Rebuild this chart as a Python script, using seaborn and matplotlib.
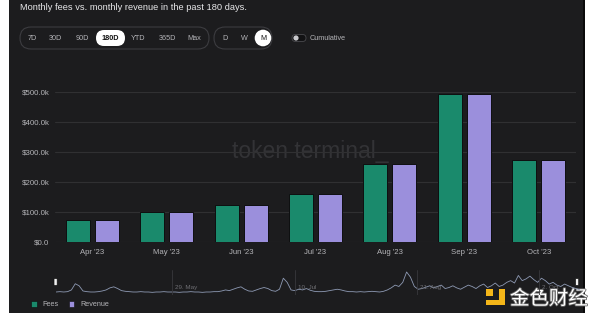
import numpy as np
import pandas as pd
import matplotlib
matplotlib.use("Agg")
import matplotlib.pyplot as plt
import seaborn as sns
from matplotlib.patches import FancyBboxPatch, Rectangle, Circle
import matplotlib.patheffects as pe

# ---------------- data ----------------
months = ["Apr '23", "May '23", "Jun '23", "Jul '23", "Aug '23", "Sep '23", "Oct '23"]
fees = [72000, 99000, 122000, 160000, 260000, 494000, 272000]
revenue = [72000, 99000, 122000, 160000, 260000, 494000, 272000]
series_names = ["Fees", "Revenue"]
y_ticks = [0, 100000, 200000, 300000, 400000, 500000]
y_tick_labels = ["$0.0", "$100.0k", "$200.0k", "$300.0k", "$400.0k", "$500.0k"]
range_buttons = ["7D", "30D", "90D", "180D", "YTD", "365D", "Max"]
interval_buttons = ["D", "W", "M"]
nav_labels = ["29. May", "10. Jul", "21. Aug", "2. Oct"]
nav_label_dates = ["2023-05-29", "2023-07-10", "2023-08-21", "2023-10-02"]
# daily activity sparkline in navigator (relative heights)
spark = [2, 3, 2, 3, 8, 26, 20, 5, 3, 2, 2, 3, 5, 8, 14, 17, 12, 6, 4, 3, 2, 2, 3, 2, 2, 1,
         2, 2, 3, 2, 2, 2, 1, 2, 2, 3, 2, 2, 1, 2, 2, 3, 3, 5, 8, 6, 10, 14, 17, 10, 5, 4,
         8, 12, 15, 12, 6, 4, 10, 42, 30, 8, 6, 10, 8, 12, 7, 4, 3, 3, 4, 6, 8, 10, 8, 5,
         3, 3, 2, 3, 2, 3, 4, 3, 2, 4, 8, 14, 22, 18, 30, 60, 45, 18, 10, 12, 16, 20, 14,
         18, 22, 12, 15, 20, 14, 10, 16, 22, 18, 12, 20, 25, 15, 20, 28, 18, 22, 30, 35,
         28, 50, 35, 40, 48, 38, 30, 42, 35, 25, 30, 22, 18, 25, 20, 15, 12, 8]
spark_start, spark_end = "2023-04-19", "2023-10-16"

# ---------------- style ----------------
BG = "#1c1c1e"
GREEN = "#1a8a6c"
LAV = "#9b8fdc"
GRID = "#303032"
TXT = "#b4b4b8"
FONT = ["Liberation Sans", "DejaVu Sans"]

sns.set_theme(style="dark")
plt.rcParams["font.family"] = FONT

W, H = 600, 322
fig = plt.figure(figsize=(W / 100, H / 100), dpi=100, facecolor="white")

def fr(x0, y0, x1, y1):
    return [x0 / W, 1 - y1 / H, (x1 - x0) / W, (y1 - y0) / H]

# overlay (pixel coordinates) for background/ui
ov = fig.add_axes([0, 0, 1, 1], zorder=0)
ov.set_xlim(0, W)
ov.set_ylim(H, 0)
ov.axis("off")
ov.add_patch(Rectangle((9, 0), 575, 313, facecolor=BG, edgecolor="none"))
ov.add_patch(Rectangle((583, 0), 1.5, 313, facecolor="#0a0a0a", edgecolor="none"))

ov.text(20, 7, "Monthly fees vs. monthly revenue in the past 180 days.", color="#e6e6e8",
        fontsize=6.7, va="center", ha="left")

# button group 1
ov.add_patch(FancyBboxPatch((20, 27), 189, 22, boxstyle="round,pad=0,rounding_size=11",
                            facecolor=BG, edgecolor="#3c3c40", lw=0.8))
ov.add_patch(FancyBboxPatch((96, 30), 29, 16, boxstyle="round,pad=0,rounding_size=8",
                            facecolor="white", edgecolor="none"))
bx = [32, 55, 82, 110, 138, 167, 194]
for lab, x in zip(range_buttons, bx):
    ov.text(x, 38.5, lab, color="#111" if lab == "180D" else TXT, fontsize=5.2,
            ha="center", va="center", fontweight="bold" if lab == "180D" else "normal")
# button group 2
ov.add_patch(FancyBboxPatch((214, 27), 58, 22, boxstyle="round,pad=0,rounding_size=11",
                            facecolor=BG, edgecolor="#3c3c40", lw=0.8))
ov.add_patch(Circle((263, 38), 8.3, facecolor="white", edgecolor="none"))
for lab, x in zip(interval_buttons, [225, 244, 263]):
    ov.text(x, 38.5, lab, color="#111" if lab == "M" else TXT, fontsize=5.2,
            ha="center", va="center")
# toggle
ov.add_patch(FancyBboxPatch((292, 34.5), 14, 7, boxstyle="round,pad=0,rounding_size=3.5",
                            facecolor="#121214", edgecolor="#4a4a4e", lw=0.6))
ov.add_patch(Circle((296, 38), 2.6, facecolor="#c8c8cc", edgecolor="none"))
ov.text(310, 38.3, "Cumulative", color=TXT, fontsize=5.2, ha="left", va="center")

# watermark
ov.text(310, 158, "token terminal_", color="#333336", fontsize=16.5, ha="center",
        va="baseline", zorder=1)

# legend
for name, col, sx, tx in zip(series_names, [GREEN, LAV], [31, 68.5], [42, 80]):
    ov.add_patch(Rectangle((sx, 300.5), 5.8, 6, facecolor=col, edgecolor="#0c0c0c", lw=0.4))
    ov.text(tx, 304, name, color=TXT, fontsize=5.2, ha="left", va="center")

# 金色财经 watermark
ov.add_patch(Rectangle((499, 289), 5.5, 16, facecolor="#f4b619", edgecolor="none", zorder=5))
ov.add_patch(Rectangle((486, 299.5), 18, 5.5, facecolor="#f4b619", edgecolor="none", zorder=5))
ov.add_patch(Rectangle((486, 289), 7, 6.5, facecolor="#f4b619", edgecolor="none", zorder=5))
ov.text(549, 299, "金色财经", color="white", fontsize=14, ha="center", va="center",
        family=["Noto Sans CJK SC", "DejaVu Sans"], zorder=6,
        path_effects=[pe.withStroke(linewidth=1.2, foreground="#6a6a6a")])

# ---------------- main bar chart ----------------
df = pd.DataFrame({
    "month": months * 2,
    "series": [series_names[0]] * len(months) + [series_names[1]] * len(months),
    "value": fees + revenue,
})
ax = fig.add_axes(fr(55, 92, 576, 242), zorder=2)
ax.set_facecolor("none")
sns.barplot(data=df, x="month", y="value", hue="series", palette=[GREEN, LAV],
            width=0.78, gap=0.17, edgecolor="#0e0e10", linewidth=0.7,
            legend=False, ax=ax, saturation=1)
ax.set_xlim(-0.5, len(months) - 0.5)
ax.set_ylim(0, 500000)
ax.set_yticks(y_ticks)
ax.set_yticklabels(y_tick_labels)
ax.yaxis.grid(True, color=GRID, lw=0.8)
ax.set_axisbelow(True)
ax.xaxis.grid(False)
for s in ax.spines.values():
    s.set_visible(False)
ax.tick_params(axis="y", length=0, pad=4, labelsize=5.7, labelcolor=TXT)
ax.tick_params(axis="x", length=0, pad=5, labelsize=5.6, labelcolor=TXT)
ax.set_xlabel("")
ax.set_ylabel("")

# ---------------- navigator ----------------
nav = fig.add_axes(fr(56, 270, 580, 295), zorder=2)
nav.set_facecolor("#202022")
dates = pd.date_range(spark_start, spark_end, periods=len(spark))
sdf = pd.DataFrame({"date": dates, "v": spark})
sns.lineplot(data=sdf, x="date", y="v", ax=nav, color="#8e9ab4", lw=0.6)
nav.set_xlim(pd.Timestamp(spark_start), pd.Timestamp(spark_end))
nav.set_ylim(-6.7, 65.8)
nav.axis("off")
for lab, d in zip(nav_labels, nav_label_dates):
    dt = pd.Timestamp(d)
    nav.axvline(dt, color="#38383c", lw=0.6)
    nav.text(dt + pd.Timedelta(days=1), 16, lab, color="#6f6f74", fontsize=4.5,
             ha="left", va="center")
# handles
for hx in [54, 575.5]:
    ov.add_patch(FancyBboxPatch((hx, 278.5), 3.2, 7, boxstyle="round,pad=0,rounding_size=0.8",
                                facecolor="#f0f0f0", edgecolor="#111", lw=0.5, zorder=5))

fig.savefig("out.png", dpi=100, facecolor="white")
